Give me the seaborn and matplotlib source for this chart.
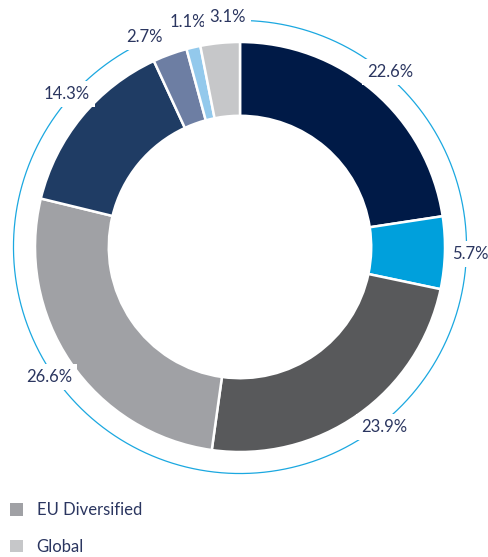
import numpy as np
import matplotlib
matplotlib.use('Agg')
import matplotlib.pyplot as plt
import seaborn as sns
from matplotlib.patches import Patch

sns.set_theme(style='white')
plt.rcParams['font.family'] = ['Lato', 'DejaVu Sans']

## data (clockwise from 12 o'clock)
shares = [22.6, 5.7, 23.9, 26.6, 14.3, 2.7, 1.1, 3.1]
labels = ['22.6%', '5.7%', '23.9%', '26.6%', '14.3%', '2.7%', '1.1%', '3.1%']
colors = ['#001a47', '#00a0dc', '#58595b', '#a0a1a5',
          '#1f3c64', '#6d7ea3', '#93c9ec', '#c6c7c9']
legend_names = ['EU Diversified', 'Global']
legend_colors = ['#a0a1a5', '#c6c7c9']

# small angle nudges so the crowded labels don't collide
nudge = {'14.3%': -2, '2.7%': 4.5, '3.1%': -2.5, '23.9%': 3.5}

txt_col = '#2b3660'
ring_col = '#1ba8e0'

fig = plt.figure(figsize=(4.88, 5.57), dpi=100)
ax = fig.add_axes([0, 0, 1, 1])

wedges, _ = ax.pie(shares, colors=sns.color_palette(colors), startangle=90,
                   counterclock=False, radius=1.0,
                   wedgeprops=dict(width=0.36, edgecolor='white', linewidth=1.8))

# thin outer ring
t = np.linspace(0, 2 * np.pi, 400)
ax.plot(1.105 * np.cos(t), 1.105 * np.sin(t), color=ring_col, lw=0.9, zorder=1)

for w, lab in zip(wedges, labels):
    ang = np.deg2rad((w.theta1 + w.theta2) / 2 + nudge.get(lab, 0))
    ax.text(1.125 * np.cos(ang), 1.125 * np.sin(ang), lab, ha='center', va='center',
            fontsize=12, color=txt_col, zorder=3,
            bbox=dict(boxstyle='square,pad=0.3', fc='white', ec='none'))

S = 205.0
ax.set_xlim(-240 / S, 248 / S)
ax.set_ylim(-310 / S, 247 / S)
ax.set_aspect('equal')
ax.axis('off')

handles = [Patch(facecolor=c, edgecolor='none') for c in legend_colors]
fig.legend(handles, legend_names, loc='lower left', bbox_to_anchor=(0.0, -0.014),
           frameon=False, prop=dict(size=12), labelcolor=txt_col,
           borderaxespad=0.3, borderpad=0.3,
           handlelength=0.8, handleheight=0.8, handletextpad=0.8, labelspacing=1.25)

fig.savefig('out.png', dpi=100)
